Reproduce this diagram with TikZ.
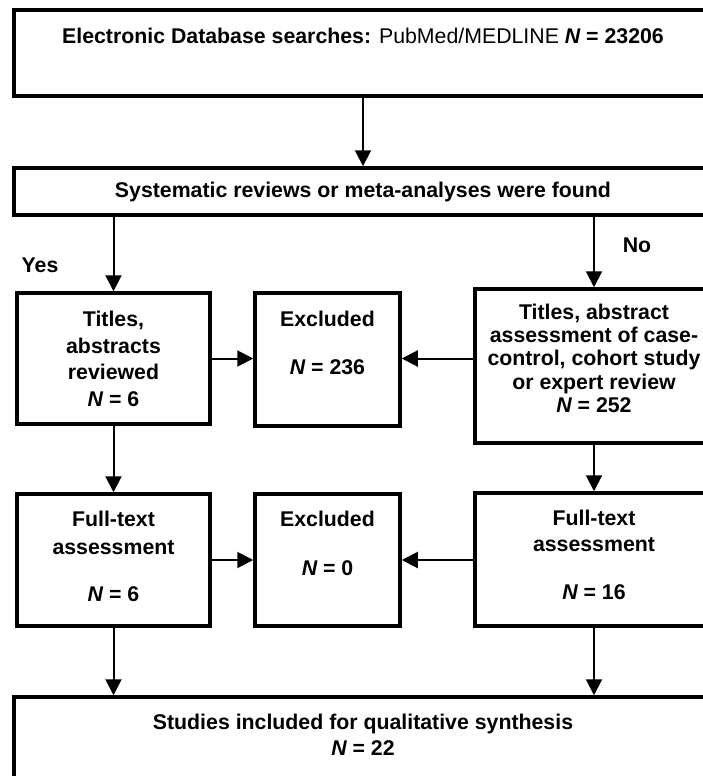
\documentclass[tikz,border=0pt]{standalone}
\usepackage{fontspec}
\setmainfont{Liberation Sans}
\usetikzlibrary{arrows.meta}
\tikzset{
	box/.style={draw, line width=3.5pt, inner sep=0pt, align=center, text height=15.5pt,
		font=\fontsize{21.3}{24}\selectfont\bfseries},
	arr/.style={line width=2pt, -{Triangle[width=16pt, length=16pt]}},
	tag/.style={font=\fontsize{21.3}{24}\selectfont\bfseries},
}

\begin{document}
\begin{tikzpicture}[x=1pt, y=-1pt]
		%%%%% START %%%%%
		
		\useasboundingbox (0, 0) rectangle (703, 776);
		\clip (0, 0) rectangle (703, 776);
		
		\node[box, minimum width=698pt, minimum height=86pt, text depth=34.5pt] (search) at (363, 53)
			{Electronic Database searches: \mdseries PubMed/MEDLINE \bfseries{\itshape N} = 23206};
		\node[box, minimum width=698pt, minimum height=47pt] (found) at (363, 191.5)
			{Systematic reviews or meta-analyses were found};
		
		\node[tag] (yes) at (40, 265) {Yes};
		\node[tag] (no) at (637, 245) {No};
		
		\node[box, minimum width=193pt, minimum height=131pt, text height=95pt, text depth=0pt] (titles) at (113.5, 358.5)
			{Titles,\\[2.5pt]abstracts\\[2.5pt]reviewed\\[2.5pt]{\itshape N} = 6};
		\node[box, minimum width=145pt, minimum height=133pt, text height=63.5pt, text depth=33.5pt] (excl1) at (327.5, 359.5)
			{Excluded\\[24pt]{\itshape N} = 236};
		\node[box, minimum width=238pt, minimum height=154pt, text height=108.5pt, text depth=15.5pt] (abst) at (594, 366)
			{Titles, abstract\\[-0.7pt]assessment of case-\\[-0.7pt]control, cohort study\\[-0.7pt]or expert review\\[-0.7pt]{\itshape N} = 252};
		
		\node[box, minimum width=193pt, minimum height=132pt, text height=90.5pt, text depth=7.5pt] (ftL) at (113.5, 560)
			{Full-text\\[4pt]assessment\\[23pt]{\itshape N} = 6};
		\node[box, minimum width=145pt, minimum height=132pt, text height=64.5pt, text depth=33.5pt] (excl2) at (327.5, 560)
			{Excluded\\[25pt]{\itshape N} = 0};
		\node[box, minimum width=238pt, minimum height=133pt, text height=89.5pt, text depth=9.5pt] (ftR) at (594, 559.5)
			{Full-text\\[2pt]assessment\\[24pt]{\itshape N} = 16};
		
		\node[box, minimum width=698pt, minimum height=100pt, text height=41.5pt, text depth=24.5pt] (incl) at (363, 747)
			{Studies included for qualitative synthesis\\[2pt]{\itshape N} = 22};
		
		\draw[arr] (search) -- (found);
		\draw[arr] (found.south -| titles) -- (titles);
		\draw[arr] (found.south -| abst) -- (abst);
		
		\draw[arr] (titles.east) -- (titles.east -| excl1.west);
		\draw[arr] (abst.west |- titles.east) -- (excl1.east |- titles.east);
		
		\draw[arr] (titles) -- (ftL);
		\draw[arr] (abst) -- (ftR);
		
		\draw[arr] (ftL.east) -- (ftL.east -| excl2.west);
		\draw[arr] (ftR.west |- ftL.east) -- (excl2.east |- ftL.east);
		
		\draw[arr] (ftL) -- (ftL |- incl.north);
		\draw[arr] (ftR) -- (ftR |- incl.north);
		
		%%%%% END %%%%%
\end{tikzpicture}
\end{document}
